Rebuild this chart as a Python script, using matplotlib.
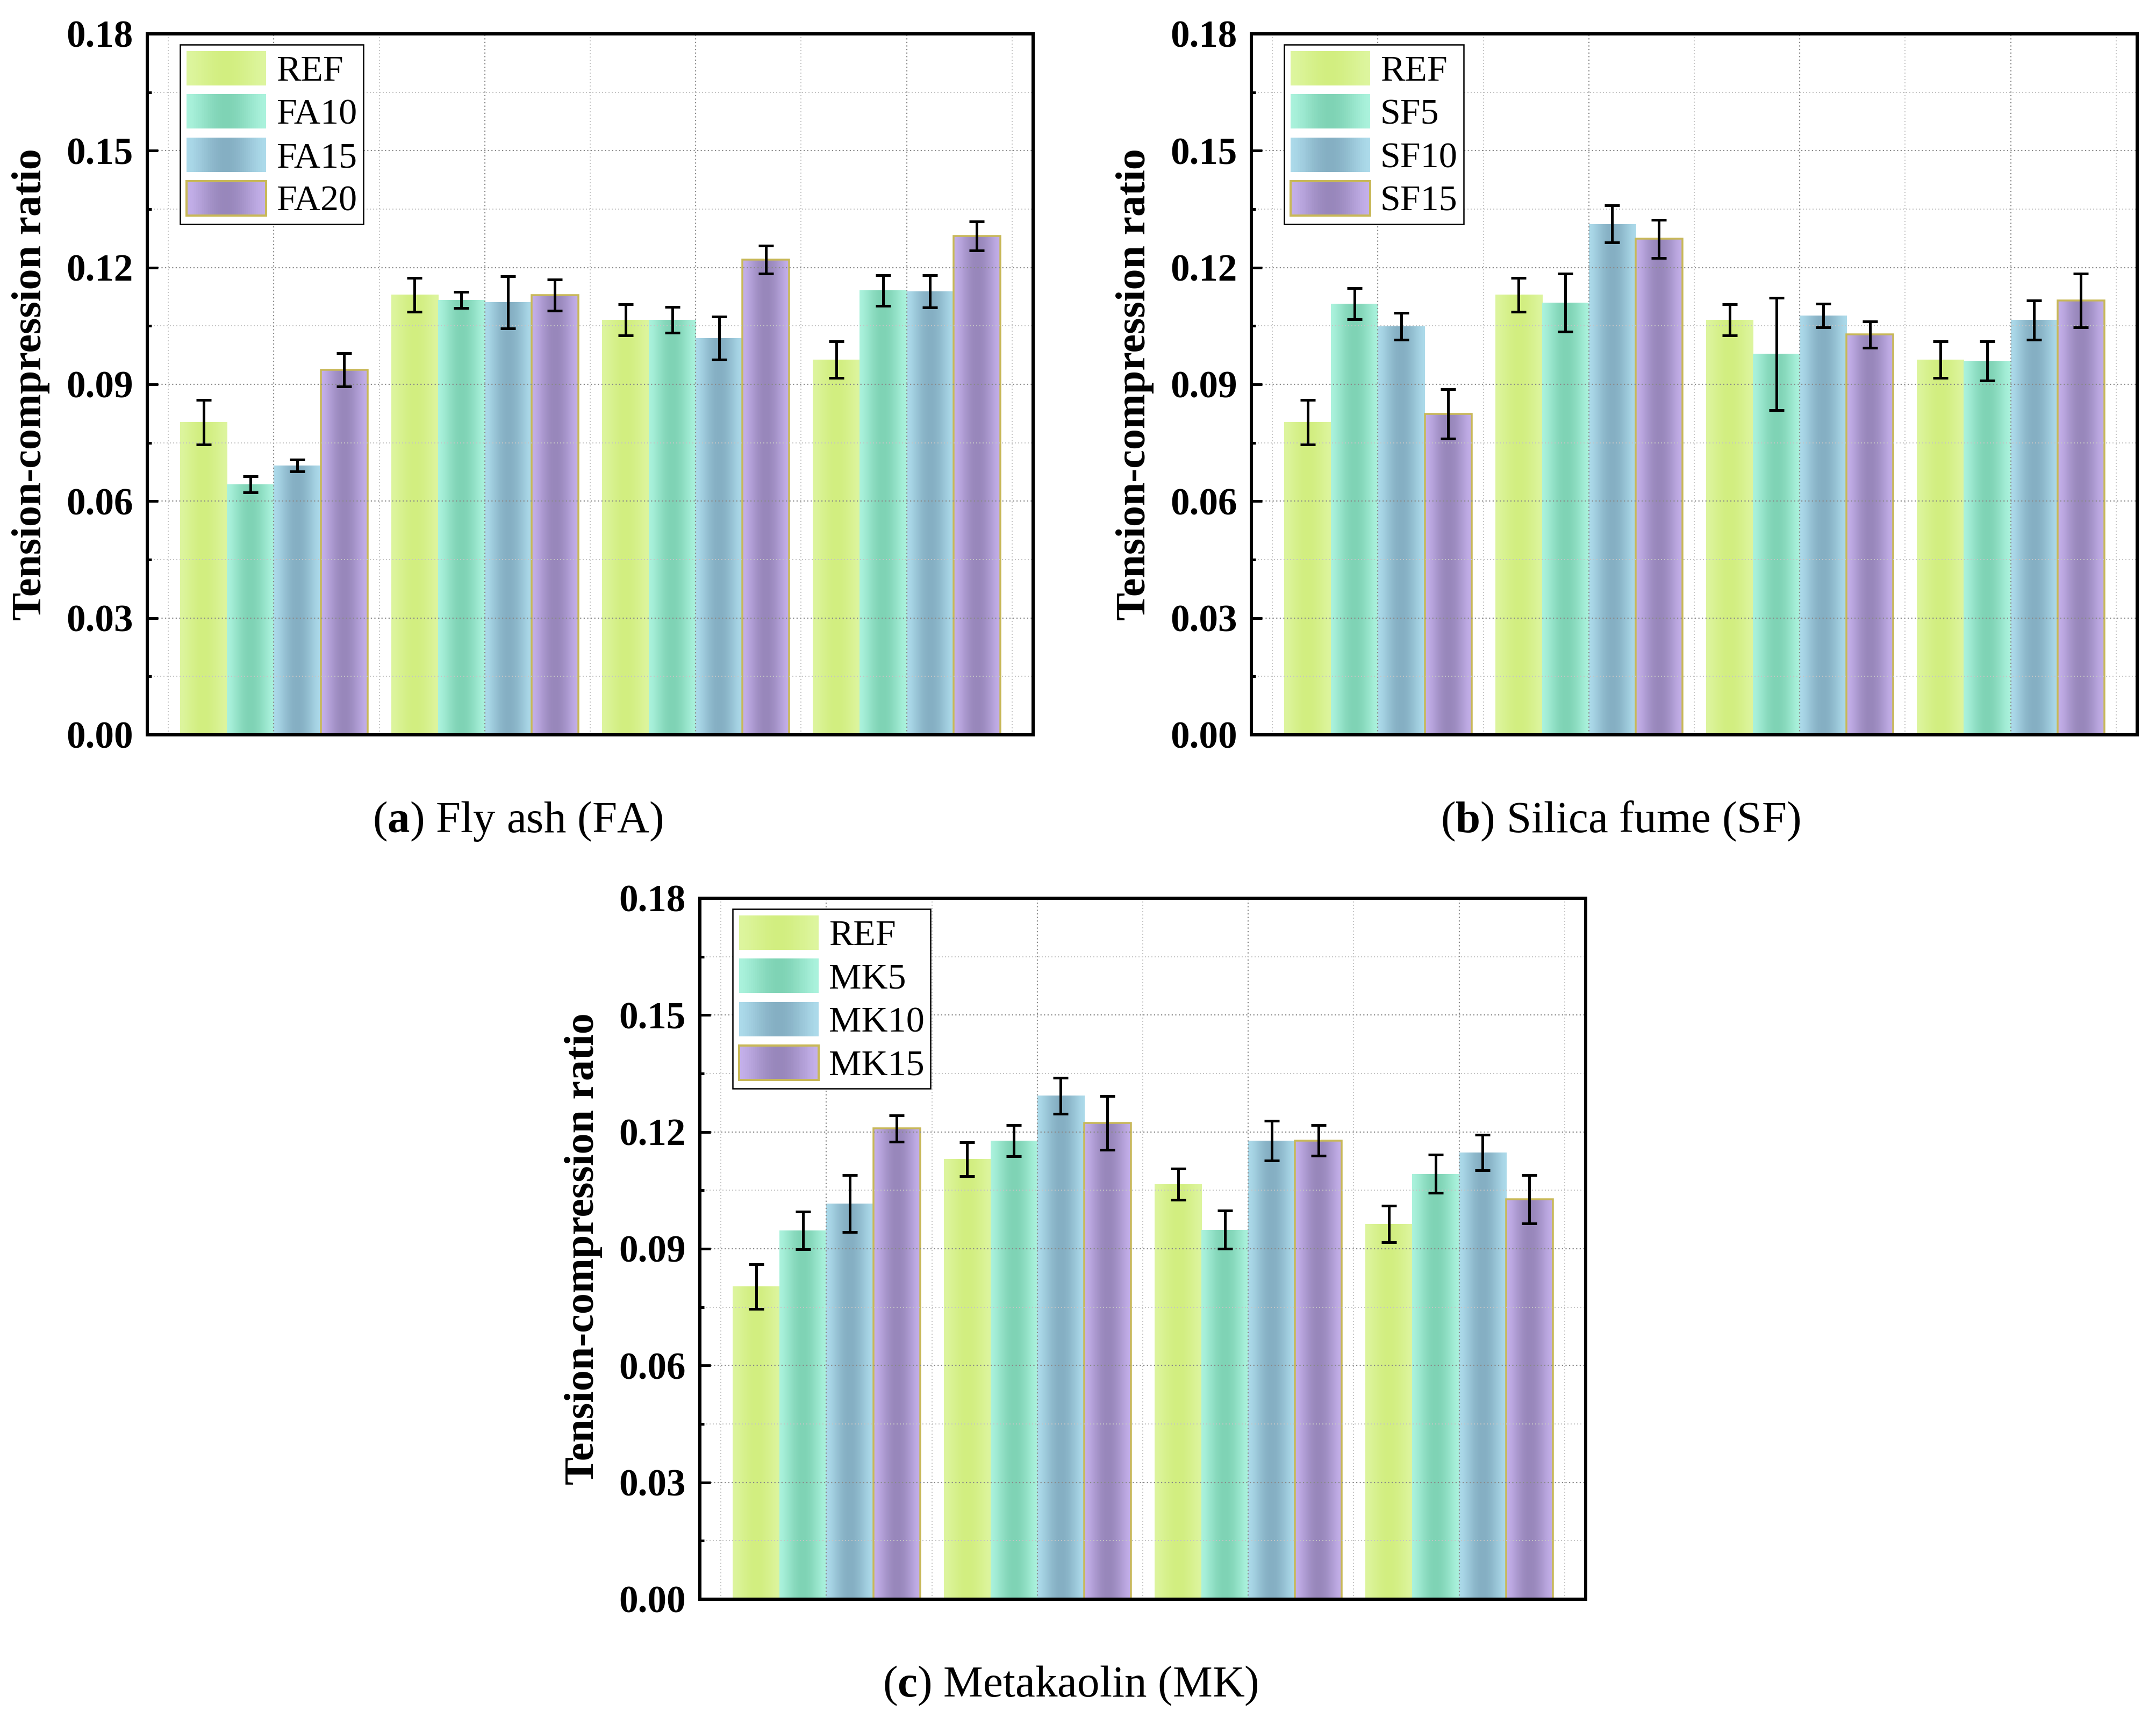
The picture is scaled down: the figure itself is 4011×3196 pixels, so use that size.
import numpy as np
import matplotlib
matplotlib.use('Agg')
import matplotlib.pyplot as plt
from matplotlib.patches import Rectangle
from matplotlib.legend_handler import HandlerBase
from matplotlib.ticker import MultipleLocator, FormatStrFormatter
from matplotlib.colors import to_rgb

plt.rcParams['font.family'] = ['Liberation Serif', 'DejaVu Serif']
plt.rcParams['mathtext.fontset'] = 'custom'
plt.rcParams['mathtext.rm'] = 'Liberation Serif'
plt.rcParams['mathtext.bf'] = 'Liberation Serif:bold'
plt.rcParams['mathtext.it'] = 'Liberation Serif:italic'

# ---------------- data ----------------
groups = [1, 2, 3, 4]

ref_vals = [0.0803, 0.1130, 0.1066, 0.0963]
ref_err = [0.0057, 0.0044, 0.0040, 0.0047]

fa_labels = ['REF', 'FA10', 'FA15', 'FA20']
fa10_vals = [0.0643, 0.1117, 0.1066, 0.1141]
fa10_err = [0.0021, 0.0021, 0.0033, 0.0039]
fa15_vals = [0.0692, 0.1111, 0.1019, 0.1139]
fa15_err = [0.0015, 0.0067, 0.0055, 0.0041]
fa20_vals = [0.0937, 0.1129, 0.1220, 0.1281]
fa20_err = [0.0043, 0.0040, 0.0036, 0.0037]

sf_labels = ['REF', 'SF5', 'SF10', 'SF15']
sf5_vals = [0.1107, 0.1110, 0.0978, 0.0960]
sf5_err = [0.0040, 0.0075, 0.0144, 0.0051]
sf10_vals = [0.1049, 0.1312, 0.1077, 0.1065]
sf10_err = [0.0034, 0.0047, 0.0030, 0.0050]
sf15_vals = [0.0824, 0.1274, 0.1028, 0.1115]
sf15_err = [0.0063, 0.0049, 0.0034, 0.0069]

mk_labels = ['REF', 'MK5', 'MK10', 'MK15']
mk5_vals = [0.0947, 0.1177, 0.0949, 0.1092]
mk5_err = [0.0048, 0.0040, 0.0049, 0.0049]
mk10_vals = [0.1016, 0.1293, 0.1177, 0.1147]
mk10_err = [0.0073, 0.0046, 0.0051, 0.0045]
mk15_vals = [0.1209, 0.1223, 0.1178, 0.1027]
mk15_err = [0.0034, 0.0069, 0.0039, 0.0062]

captions = [r'($\mathbf{a}$) Fly ash (FA)', r'($\mathbf{b}$) Silica fume (SF)',
            r'($\mathbf{c}$) Metakaolin (MK)']
ylabel_text = 'Tension-compression ratio'

# ---------------- style ----------------
edge_cols = ['#ddf59e', '#aaf2dc', '#acdaea', '#c4b0ea']
center_cols = ['#d2ee80', '#7fd3b5', '#85afc3', '#9887bb']
purple_edge = '#c8b858'
bar_w = 0.222

W, H = 4012, 3196
DPI = 100
fig = plt.figure(figsize=(W / DPI, H / DPI), dpi=DPI)


def pt(px):
    return px * 72.0 / DPI


def grad_rgb(i, n=80):
    t = np.linspace(0, 1, n)
    w = np.sin(np.pi * t) ** 1.5
    e = np.array(to_rgb(edge_cols[i]))
    c = np.array(to_rgb(center_cols[i]))
    return e[None, :] * (1 - w[:, None]) + c[None, :] * w[:, None]


class GradHandler(HandlerBase):
    def __init__(self, idx):
        super().__init__()
        self.idx = idx

    def create_artists(self, legend, orig_handle, xdescent, ydescent,
                       width, height, fontsize, trans):
        cols = grad_rgb(self.idx, 40)
        n = len(cols)
        arts = []
        for k in range(n):
            r = Rectangle((-xdescent + width * k / n, -ydescent), width / n * 1.05, height,
                          facecolor=cols[k], edgecolor='none', transform=trans)
            arts.append(r)
        if self.idx == 3:
            arts.append(Rectangle((-xdescent, -ydescent), width, height, fill=False,
                                  edgecolor=purple_edge, lw=pt(4), transform=trans))
        return arts


def panel(rect, labels, series, errs, caption, cap_x, cap_y):
    ax = fig.add_axes(rect)
    x = np.array(groups, dtype=float)
    offsets = (np.arange(4) - 1.5) * bar_w
    proxies = []
    for i in range(4):
        bars = ax.bar(x + offsets[i], series[i], width=bar_w, color=edge_cols[i],
                      edgecolor='none', zorder=1)
        img = grad_rgb(i)[None, :, :]
        for p in bars.patches:
            x0, h, w = p.get_x(), p.get_height(), p.get_width()
            im = ax.imshow(img, extent=(x0, x0 + w, 0, h), aspect='auto',
                           interpolation='bilinear', zorder=1.2)
            im.set_clip_path(p)
        if i == 3:
            ax.bar(x + offsets[i], series[i], width=bar_w, fill=False,
                   edgecolor=purple_edge, lw=pt(3.5), zorder=1.4)
        ax.errorbar(x + offsets[i], series[i], yerr=errs[i], fmt='none', ecolor='black',
                    elinewidth=pt(5), capsize=pt(13.5), capthick=pt(5), zorder=4)
        proxies.append(Rectangle((0, 0), 1, 1, label=labels[i]))

    ax.set_xlim(0.4, 4.6)
    ax.set_ylim(0, 0.18)
    ax.xaxis.set_major_locator(MultipleLocator(1))
    ax.xaxis.set_minor_locator(MultipleLocator(0.5))
    ax.yaxis.set_major_locator(MultipleLocator(0.03))
    ax.yaxis.set_minor_locator(MultipleLocator(0.015))
    ax.yaxis.set_major_formatter(FormatStrFormatter('%.2f'))
    ax.set_axisbelow(False)
    ax.grid(which='major', color='#8a8a8a', linestyle=(0, (1, 2)), lw=pt(2.2))
    ax.grid(which='minor', color='#c4c4c4', linestyle=(0, (1, 2)), lw=pt(2.0))
    ax.tick_params(axis='x', which='both', length=0, labelbottom=False)
    ax.tick_params(axis='y', which='major', direction='in', length=pt(20), width=pt(5),
                   labelsize=pt(71), pad=pt(26))
    ax.tick_params(axis='y', which='minor', direction='in', length=pt(8), width=pt(5))
    for lab in ax.get_yticklabels():
        lab.set_fontweight('bold')
    for s in ax.spines.values():
        s.set_linewidth(pt(6))
        s.set_zorder(5)
    ax.set_ylabel(ylabel_text, fontsize=pt(78), fontweight='bold')
    ax.yaxis.set_label_coords(-0.1098, 0.5)

    axw = rect[2] * W
    axh = rect[3] * H
    leg = ax.legend(handles=proxies, labels=labels,
                    handler_map={proxies[i]: GradHandler(i) for i in range(4)},
                    loc='upper left', bbox_to_anchor=(61 / axw, 1 - 20 / axh),
                    borderaxespad=0, prop={'family': 'Liberation Serif', 'size': pt(68)},
                    frameon=True, fancybox=False, edgecolor='black', framealpha=1,
                    handlelength=2.18, handleheight=1.07, labelspacing=0.17,
                    handletextpad=0.28, borderpad=0.17)
    leg.get_frame().set_linewidth(pt(2.5))
    leg.set_zorder(6)

    fig.text(cap_x / W, 1 - cap_y / H, caption, fontsize=pt(83), ha='center',
             va='baseline')
    return ax


axw_f = 1648 / W
axh_f = 1304 / H
series_a = [ref_vals, fa10_vals, fa15_vals, fa20_vals]
errs_a = [ref_err, fa10_err, fa15_err, fa20_err]
series_b = [ref_vals, sf5_vals, sf10_vals, sf15_vals]
errs_b = [ref_err, sf5_err, sf10_err, sf15_err]
series_c = [ref_vals, mk5_vals, mk10_vals, mk15_vals]
errs_c = [ref_err, mk5_err, mk10_err, mk15_err]

panel([274 / W, 1 - 1367 / H, axw_f, axh_f], fa_labels, series_a, errs_a,
      captions[0], 963, 1548)
panel([2328 / W, 1 - 1367 / H, axw_f, axh_f], sf_labels, series_b, errs_b,
      captions[1], 3015, 1548)
panel([1302 / W, 1 - 2975 / H, axw_f, axh_f], mk_labels, series_c, errs_c,
      captions[2], 1991, 3156)

fig.savefig('out.png', dpi=DPI, facecolor='white')
